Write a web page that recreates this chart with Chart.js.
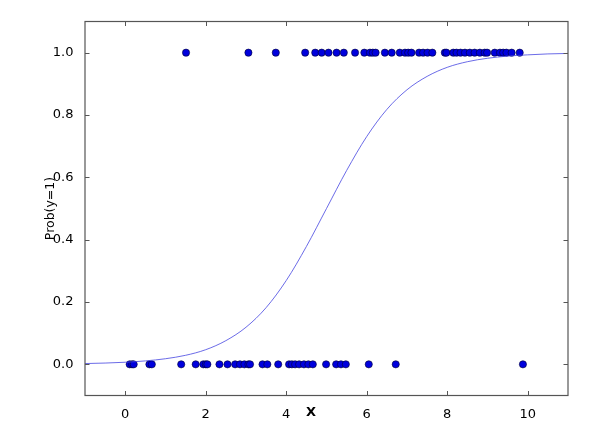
<!DOCTYPE html>
<html>
<head>
<meta charset="utf-8">
<script src="https://cdn.jsdelivr.net/npm/chart.js@4"></script>
<style>
html,body{margin:0;padding:0;background:#fff;}
#wrap{width:611px;height:427px;}
</style>
</head>
<body>
<div id="wrap"><canvas id="c" width="611" height="427"></canvas></div>
<script>
// Observations with y = 1
const onesX = [1.51,3.06,3.74,4.47,4.72,4.88,5.05,5.25,5.43,5.71,5.94,6.08,6.15,6.22,6.45,6.62,6.82,6.95,7.03,7.11,7.30,7.40,7.51,7.63,7.94,7.98,8.15,8.23,8.33,8.44,8.56,8.68,8.81,8.93,8.99,9.18,9.31,9.39,9.47,9.60,9.80];
// Observations with y = 0
const zerosX = [0.11,0.17,0.21,0.60,0.66,1.39,1.75,1.94,2.00,2.04,2.34,2.54,2.73,2.85,2.96,3.06,3.10,3.41,3.53,3.80,4.07,4.14,4.22,4.32,4.44,4.55,4.66,4.99,5.24,5.36,5.48,6.05,6.72,9.88];
// Fitted probability curve
const curveX = [-1,-0.5,0,0.5,1,1.5,2,2.5,3,3.5,4,4.5,5,5.5,6,6.5,7,7.5,8,8.5,9,9.5,10,10.5,11];
const curveY = [0.0025,0.0041,0.0067,0.011,0.018,0.029,0.047,0.076,0.119,0.182,0.269,0.378,0.500,0.622,0.731,0.818,0.881,0.924,0.953,0.971,0.982,0.989,0.993,0.996,0.9975];
// Tick labels
const xTicks = [0,2,4,6,8,10];
const yTicks = [0.0,0.2,0.4,0.6,0.8,1.0];
const xLabel = 'X';
const yLabel = 'Prob(y=1)';

const FONT = '"DejaVu Sans", sans-serif';

const framePlugin = {
  id: 'frame',
  afterDraw(chart) {
    const {ctx, chartArea: a, scales} = chart;
    const xs = scales.x, ys = scales.y;
    ctx.save();
    ctx.strokeStyle = '#555555';
    ctx.lineWidth = 1.2;
    ctx.strokeRect(a.left, a.top, a.right - a.left, a.bottom - a.top);
    ctx.lineWidth = 1;
    ctx.beginPath();
    const L = 4.5;
    xTicks.forEach(v => {
      const p = Math.round(xs.getPixelForValue(v)) + 0.5;
      ctx.moveTo(p, a.bottom); ctx.lineTo(p, a.bottom - L);
      ctx.moveTo(p, a.top); ctx.lineTo(p, a.top + L);
    });
    yTicks.forEach(v => {
      const p = Math.round(ys.getPixelForValue(v)) + 0.5;
      ctx.moveTo(a.left, p); ctx.lineTo(a.left + L, p);
      ctx.moveTo(a.right, p); ctx.lineTo(a.right - L, p);
    });
    ctx.stroke();
    // axis titles
    ctx.fillStyle = '#000';
    ctx.textAlign = 'center';
    ctx.textBaseline = 'middle';
    ctx.font = 'bold 13px ' + FONT;
    ctx.fillText(xLabel, 311, 413);
    ctx.translate(51, (a.top + a.bottom) / 2);
    ctx.rotate(-Math.PI / 2);
    ctx.font = '12.5px ' + FONT;
    ctx.fillText(yLabel, 0, 0);
    ctx.restore();
  }
};

new Chart(document.getElementById('c'), {
  type: 'scatter',
  data: {
    datasets: [
      {
        label: 'curve',
        data: curveX.map((x, i) => ({x, y: curveY[i]})),
        showLine: true,
        borderColor: 'rgba(70,70,225,0.8)',
        borderWidth: 1,
        pointRadius: 0,
        cubicInterpolationMode: 'monotone',
        fill: false,
        order: 0
      },
      {
        label: 'y=1',
        data: onesX.map(x => ({x, y: 1})),
        backgroundColor: '#0000dd',
        borderColor: '#000033',
        borderWidth: 0.6,
        pointRadius: 3.6,
        order: 1
      },
      {
        label: 'y=0',
        data: zerosX.map(x => ({x, y: 0})),
        backgroundColor: '#0000dd',
        borderColor: '#000033',
        borderWidth: 0.6,
        pointRadius: 3.6,
        order: 1
      }
    ]
  },
  options: {
    responsive: false,
    animation: false,
    devicePixelRatio: 1,
    layout: {padding: {top: 21.5, right: 43, left: 0, bottom: 0}},
    plugins: {legend: {display: false}, tooltip: {enabled: false}},
    scales: {
      x: {
        type: 'linear',
        min: -1, max: 11,
        grid: {display: false},
        border: {display: false},
        afterBuildTicks: s => { s.ticks = xTicks.map(v => ({value: v})); },
        afterFit: s => { s.height = 31.5; },
        ticks: {
          padding: 3,
          color: '#000',
          font: {family: FONT, size: 13},
          maxRotation: 0,
          callback: v => String(v)
        }
      },
      y: {
        type: 'linear',
        min: -0.1, max: 1.1,
        grid: {display: false},
        border: {display: false},
        afterBuildTicks: s => { s.ticks = yTicks.map(v => ({value: v})); },
        afterFit: s => { s.width = 85; },
        ticks: {
          padding: 3.5,
          color: '#000',
          font: {family: FONT, size: 13},
          callback: v => Number(v).toFixed(1)
        }
      }
    }
  },
  plugins: [framePlugin]
});
</script>
</body>
</html>
